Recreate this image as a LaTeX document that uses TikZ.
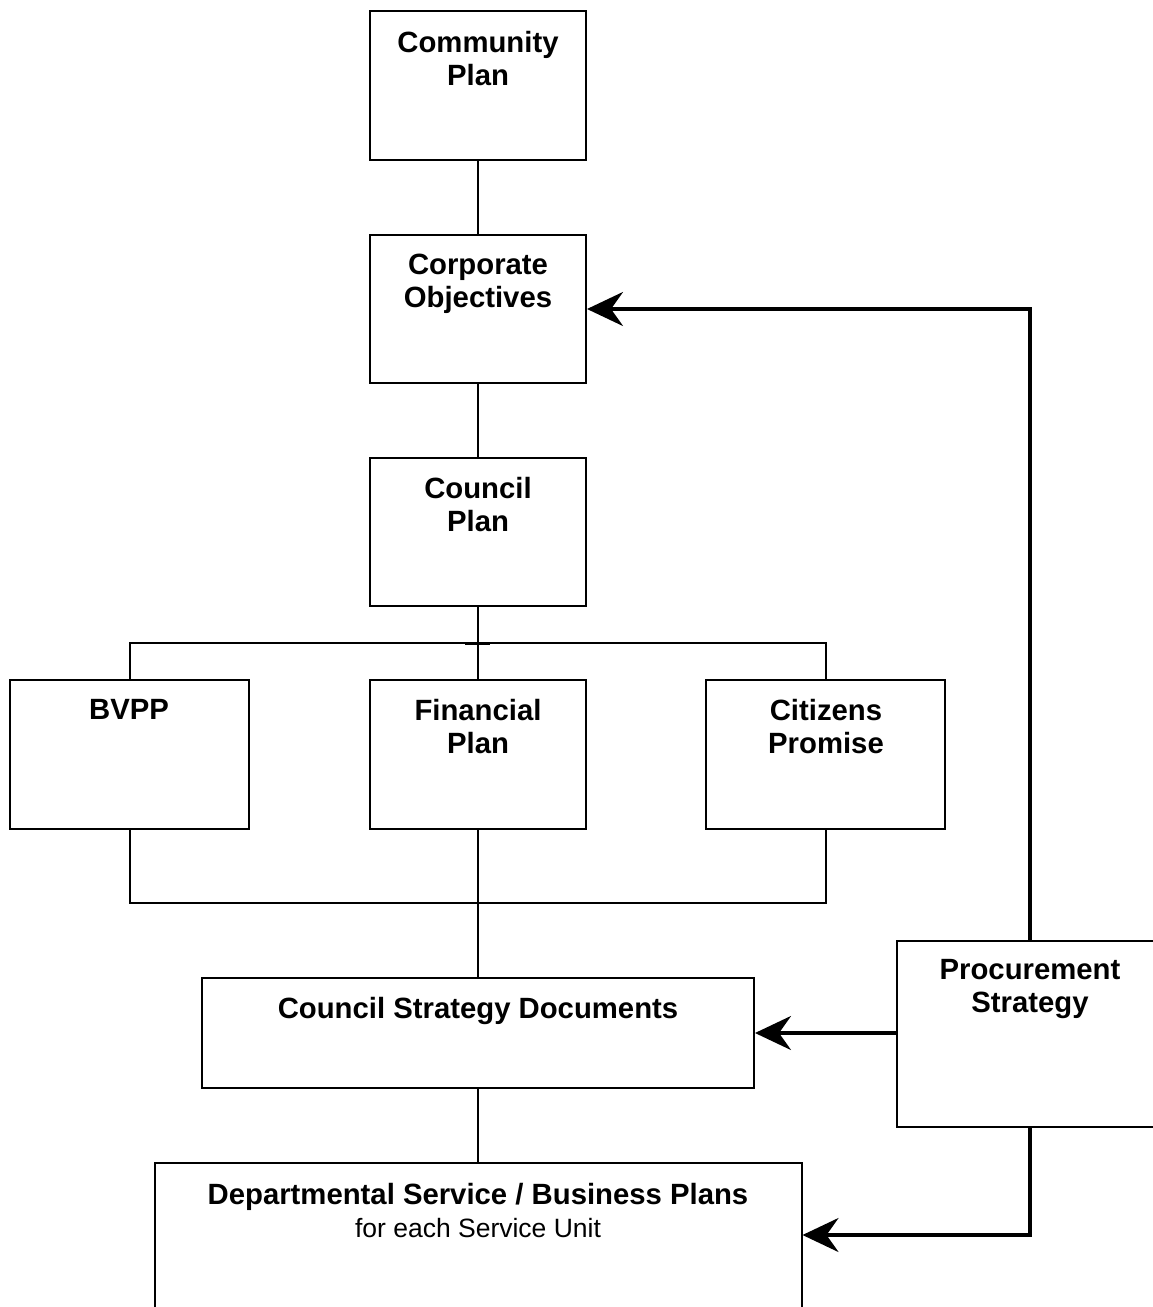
\documentclass[tikz,border=0pt]{standalone}
\usepackage{fontspec}
\setmainfont{Liberation Sans}
\usetikzlibrary{arrows.meta}
\tikzset{
  box/.style={draw=black, line width=2pt, fill=white, minimum width=#1, inner sep=0pt},
  lbl/.style={anchor=north, inner sep=0pt, align=center, font=\fontsize{29.3}{33}\selectfont\bfseries},
  conn/.style={draw=black, line width=2pt},
  feed/.style={draw=black, line width=3.5pt, -{Stealth[length=36pt,width=34pt,inset=12pt]}}
}
\begin{document}
\begin{tikzpicture}[x=1pt,y=-1pt]
\useasboundingbox (0,0) rectangle (1153,1307);
\clip (0,0) rectangle (1153,1307);
% boxes
\node[box=216pt, minimum height=149pt] (comm) at (478,85.5) {};
\node[box=216pt, minimum height=148pt] (corp) at (478,309) {};
\node[box=216pt, minimum height=148pt] (cplan) at (478,532) {};
\node[box=239pt, minimum height=149pt] (bvpp) at (129.5,754.5) {};
\node[box=216pt, minimum height=149pt] (fin) at (478,754.5) {};
\node[box=239pt, minimum height=149pt] (cit) at (825.5,754.5) {};
\node[box=552pt, minimum height=110pt] (csd) at (478,1033) {};
\node[box=266pt, minimum height=186pt] (proc) at (1030,1034) {};
\node[box=647pt, minimum height=167pt] (dep) at (478,1246.5) {};
% labels
\node[lbl] (tcomm) at (478,31) {Community\\Plan};
\node[lbl] (tcorp) at (478,254) {Corporate\\Objectives};
\node[lbl] (tcplan) at (478,477) {Council\\Plan};
\node[lbl] (tbvpp) at (129,699) {BVPP};
\node[lbl] (tfin) at (478,699) {Financial\\Plan};
\node[lbl] (tcit) at (826,699) {Citizens\\Promise};
\node[lbl] (tcsd) at (478,997) {Council Strategy Documents};
\node[lbl] (tproc) at (1030,959) {Procurement\\Strategy};
\node[lbl] (tdep) at (478,1183) {Departmental Service / Business Plans\\{\fontsize{26.5}{33}\selectfont\mdseries for each Service Unit}};
% coordinates
\coordinate (busT) at (0,643);
\coordinate (busB) at (0,903);
\coordinate (low) at (0,1235);
% connectors
\draw[conn] (comm.south) -- (corp.north);
\draw[conn] (corp.south) -- (cplan.north);
\draw[conn] (cplan.south) -- (fin.north);
\draw[conn] (bvpp.north) -- (bvpp.north |- busT) -- (cit.north |- busT) -- (cit.north);
\draw[line width=3pt] (465,643) -- (490,643);
\draw[conn] (bvpp.south) -- (bvpp.south |- busB) -- (cit.south |- busB) -- (cit.south);
\draw[conn] (fin.south) -- (csd.north);
\draw[conn] (csd.south) -- (dep.north);
% feedback arrows
\draw[feed] (proc.north) |- (corp.east);
\draw[feed] (proc.west |- csd.east) -- (csd.east);
\draw[feed] (proc.south) -- (proc.south |- low) -- (dep.east |- low);
\end{tikzpicture}
\end{document}
